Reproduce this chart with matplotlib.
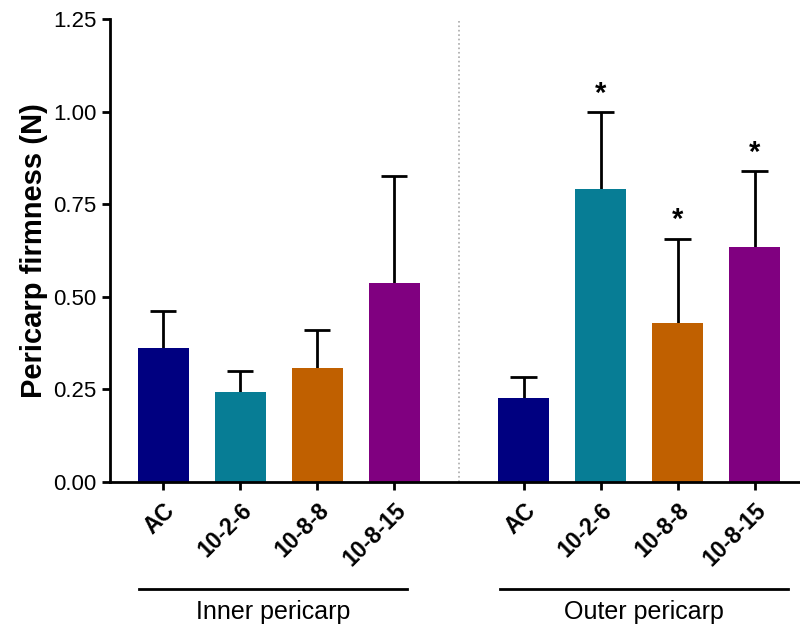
import numpy as np
import matplotlib.pyplot as plt

plt.rcParams['font.family'] = ['Liberation Sans', 'DejaVu Sans']

# Firmness data (mean and upper SD) for the two pericarp tissues
groups = ['Inner pericarp', 'Outer pericarp']
treatments = ['AC', '10-2-6', '10-8-8', '10-8-15']
inner_mean = [0.362, 0.242, 0.307, 0.536]
inner_sd = [0.100, 0.058, 0.103, 0.289]
outer_mean = [0.226, 0.791, 0.430, 0.635]
outer_sd = [0.057, 0.207, 0.227, 0.205]
outer_signif = [False, True, True, True]

colors = ['#000080', '#077D95', '#C06000', '#800080']

fig = plt.figure(figsize=(8, 6.26), dpi=100)
ax = fig.add_axes([0.1375, 0.23, 0.8625, 0.7396])

gap = 1.68
x_inner = np.arange(len(treatments))
x_outer = x_inner + len(treatments) + gap - 1
width = 0.66
cap = 0.17


def bars_with_sd(xs, means, sds):
    ax.bar(xs, means, width, color=colors, zorder=2)
    tops = np.array(means) + np.array(sds)
    # upper error bar only, with a cap
    ax.vlines(xs, means, tops, color='black', linewidth=2, zorder=1)
    ax.hlines(tops, np.array(xs) - cap, np.array(xs) + cap,
              color='black', linewidth=2, zorder=1)


bars_with_sd(x_inner, inner_mean, inner_sd)
bars_with_sd(x_outer, outer_mean, outer_sd)

for xi, m, s, sig in zip(x_outer, outer_mean, outer_sd, outer_signif):
    if sig:
        ax.text(xi, m + s + 0.012, '*', ha='center', va='bottom',
                fontsize=21, fontweight='bold')

# divider between tissues
mid = (x_inner[-1] + x_outer[0]) / 2
ax.axvline(mid, color='#aaaaaa', linestyle=':', linewidth=1.2, zorder=1)

ax.set_xlim(-0.69, 8.27)
ax.set_ylim(0, 1.25)
ax.set_yticks([0, 0.25, 0.5, 0.75, 1.0, 1.25])
ax.set_yticklabels(['0.00', '0.25', '0.50', '0.75', '1.00', '1.25'], fontsize=16)
ax.set_xticks(np.concatenate([x_inner, x_outer]))
ax.set_xticklabels(treatments * 2, rotation=45, ha='right',
                   rotation_mode='anchor', fontsize=16.5, fontweight='bold')
ax.tick_params(axis='both', direction='out', length=6, width=2)
ax.tick_params(axis='x', pad=6)

ax.set_ylabel('Pericarp firmness (N)', fontsize=21, fontweight='bold', labelpad=4)

for side in ['top', 'right']:
    ax.spines[side].set_visible(False)
ax.spines['left'].set_linewidth(2)
ax.spines['bottom'].set_linewidth(2)

# group labels with underline below the tick labels
trans = ax.get_xaxis_transform()
for label, xs, right_ext in [(groups[0], x_inner, 0.17), (groups[1], x_outer, 0.44)]:
    x0, x1 = xs[0] - 0.31, xs[-1] + right_ext
    ax.plot([x0, x1], [-0.23, -0.23], color='black', linewidth=2,
            transform=trans, clip_on=False)
    ax.text((x0 + x1) / 2, -0.28, label, ha='center', va='center',
            fontsize=18, transform=trans)

fig.savefig('out.png', dpi=100)
